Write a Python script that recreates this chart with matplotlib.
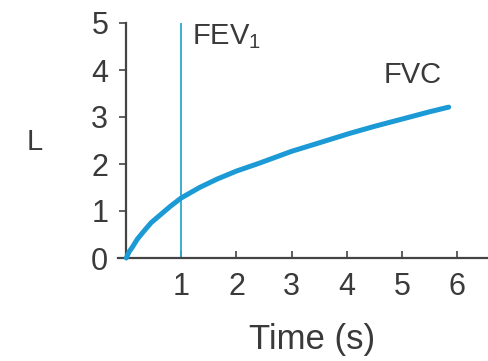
import matplotlib
matplotlib.use("Agg")
import matplotlib.pyplot as plt

time_s = [0, 0.05, 0.11, 0.2, 0.29, 0.45, 0.65, 0.8, 1.0, 1.33, 1.65, 2.0, 2.42,
          3.0, 3.5, 4.05, 4.5, 5.05, 5.5, 5.85]
volume_L = [0, 0.13, 0.23, 0.4, 0.53, 0.75, 0.95, 1.1, 1.28, 1.5, 1.68, 1.85, 2.02,
            2.27, 2.45, 2.65, 2.8, 2.97, 3.11, 3.21]
fev1_time = 1
x_ticks = [1, 2, 3, 4, 5, 6]
y_ticks = [0, 1, 2, 3, 4, 5]

plt.rcParams['font.family'] = ['Liberation Sans', 'DejaVu Sans']
txt = '#3a3a3a'

fig = plt.figure(figsize=(4.88, 3.61), dpi=100)
ax = fig.add_axes([118/488, (361-258)/361, (490-118)/488, (258-23)/361])
ax.set_xlim(-0.15, 6.6)
ax.set_ylim(0, 5)
ax.plot(time_s, volume_L, color='#1b9ad6', lw=3.6, solid_capstyle='round',
        solid_joinstyle='round', clip_on=False, zorder=3)
ax.plot([fev1_time, fev1_time], [0, 5], color='#2fa8cc', lw=1.3, zorder=2)

for s in ['top', 'right']:
    ax.spines[s].set_visible(False)
ax.spines['left'].set_position(('data', 0))
ax.spines['left'].set_bounds(0, 5)
for s in ['left', 'bottom']:
    ax.spines[s].set_color('#444444')
    ax.spines[s].set_linewidth(1.6)

ax.set_xticks(x_ticks)
ax.set_yticks(y_ticks)
ax.tick_params(axis='x', direction='in', length=5, width=1.2, colors='#444444',
               labelcolor=txt, labelsize=22, pad=10)
ax.tick_params(axis='y', direction='out', length=5, width=1.2, colors='#444444',
               labelcolor=txt, labelsize=22, pad=8)

ax.text(1.2, 4.72, 'FEV$_\\mathregular{1}$', fontsize=21, color=txt, va='center', ha='left')
ax.text(5.2, 3.9, 'FVC', fontsize=21, color=txt, va='center', ha='center')
fig.text(35/488, 1 - 142/361, 'L', fontsize=21, color=txt, va='center', ha='center')
fig.text(312/488, 1 - 340/361, 'Time (s)', fontsize=25, color=txt, va='center', ha='center')

fig.savefig('out.png', dpi=100)
